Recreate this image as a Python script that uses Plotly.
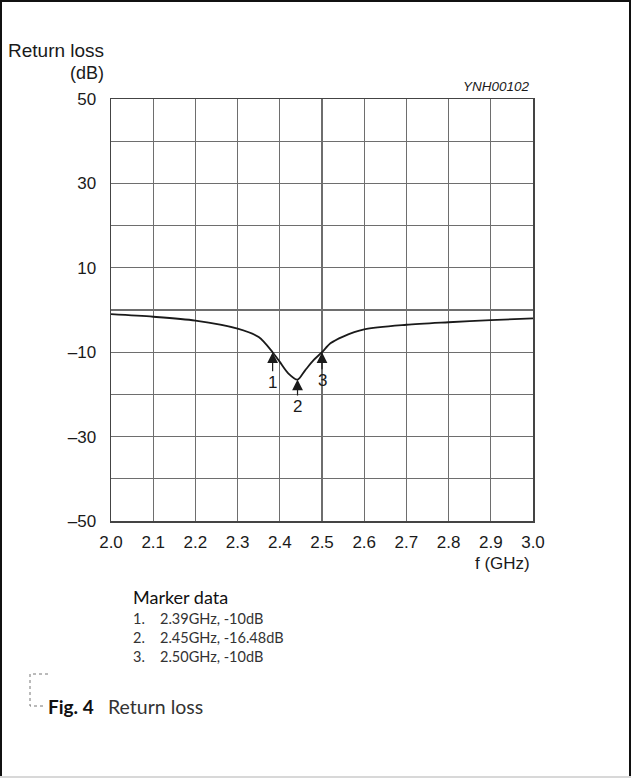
import plotly.graph_objects as go

# ---- data ----
freq_ghz = [2.0, 2.1, 2.2, 2.3, 2.35, 2.383, 2.4, 2.42, 2.442, 2.46, 2.48, 2.5, 2.52, 2.55, 2.6, 2.7, 2.8, 2.9, 3.0]
return_loss_db = [-1.0, -1.6, -2.5, -4.4, -6.4, -10.0, -12.3, -15.0, -16.5, -14.3, -11.9, -10.0, -7.9, -6.3, -4.6, -3.5, -2.9, -2.4, -2.0]

marker_labels = ["1", "2", "3"]
marker_f = [2.383, 2.442, 2.50]
marker_db = [-10.0, -16.48, -10.0]
marker_text_offset = [30, 27, 28]

marker_lines = ["2.39GHz, -10dB", "2.45GHz, -16.48dB", "2.50GHz, -10dB"]

x_tick_vals = [2.0, 2.1, 2.2, 2.3, 2.4, 2.5, 2.6, 2.7, 2.8, 2.9, 3.0]
x_tick_text = ["2.0", "2.1", "2.2", "2.3", "2.4", "2.5", "2.6", "2.7", "2.8", "2.9", "3.0"]
y_tick_vals = [-50, -40, -30, -20, -10, 0, 10, 20, 30, 40, 50]
y_tick_text = ["\u201350", "", "\u201330", "", "\u201310", "", "10", "", "30", "", "50"]

# ---- layout geometry (pixels) ----
W, H = 631, 779
L, R, T, B = 111, 98, 99, 258
PW, PH = W - L - R, H - T - B


def xp(px):
    return (px - L) / PW


def yp(py):
    return (H - B - py) / PH


AX_FONT = "Liberation Sans, Arial, sans-serif"
TXT_FONT = "Lato, Open Sans, sans-serif"

fig = go.Figure()
fig.add_trace(go.Scatter(
    x=freq_ghz, y=return_loss_db, mode="lines",
    line=dict(color="#1a1a1a", width=1.8, shape="spline", smoothing=0.8),
    hoverinfo="skip", showlegend=False,
))

annotations = []
for lab, fx, db, off in zip(marker_labels, marker_f, marker_db, marker_text_offset):
    annotations.append(dict(
        x=fx, y=db, xref="x", yref="y", text=lab, showarrow=True,
        ax=0, ay=off, axref="pixel", ayref="pixel",
        arrowhead=2, arrowsize=1.8, arrowwidth=1.2, arrowcolor="#1a1a1a",
        standoff=0, startstandoff=0,
        font=dict(family=AX_FONT, size=17, color="#1a1a1a"),
    ))


def txt(text, px, py, size, anchor="left", family=TXT_FONT, color="#1a1a1a", italic=False):
    if italic:
        text = "<i>" + text + "</i>"
    annotations.append(dict(
        x=xp(px), y=yp(py), xref="paper", yref="paper", text=text,
        showarrow=False, xanchor=anchor, yanchor="middle",
        font=dict(family=family, size=size, color=color),
    ))


txt("Return loss", 106, 50, 19, anchor="right", family=AX_FONT)
txt("(dB)", 106, 73, 18, anchor="right", family=AX_FONT)
txt("YNH00102", 532, 87, 13.5, anchor="right", family=AX_FONT, italic=True)
txt("f (GHz)", 532, 563, 17, anchor="right", family=AX_FONT)

txt("Marker data", 131, 597, 18, color="#111")
for i, line in enumerate(marker_lines):
    py = 618 + i * 19
    txt(f"{i + 1}.", 131, py, 14.5, color="#333")
    txt(line, 158, py, 14.5, color="#333")

txt("<b>Fig. 4</b>", 46, 706, 19, color="#111")
txt("Return loss", 106, 706, 19.5, color="#333")

shapes = [
    # page frame
    dict(type="line", xref="paper", yref="paper", x0=xp(1), x1=xp(1), y0=yp(0), y1=yp(777),
         line=dict(color="#111", width=2)),
    dict(type="line", xref="paper", yref="paper", x0=xp(0), x1=xp(631), y0=yp(1), y1=yp(1),
         line=dict(color="#111", width=2)),
    dict(type="line", xref="paper", yref="paper", x0=xp(630), x1=xp(630), y0=yp(0), y1=yp(777),
         line=dict(color="#111", width=2)),
    dict(type="line", xref="paper", yref="paper", x0=xp(0), x1=xp(631), y0=yp(777), y1=yp(777),
         line=dict(color="#d8d8d8", width=2)),
    # dotted bracket
    dict(type="path", xref="paper", yref="paper",
         path=f"M {xp(48)} {yp(674)} L {xp(30)} {yp(674)} L {xp(30)} {yp(706)} L {xp(45)} {yp(706)}",
         line=dict(color="#777", width=1, dash="dot")),
]

fig.update_layout(
    width=W, height=H,
    margin=dict(l=L, r=R, t=T, b=B, pad=0),
    paper_bgcolor="white", plot_bgcolor="white",
    showlegend=False,
    annotations=annotations,
    shapes=shapes,
    xaxis=dict(
        range=[2.0, 3.0], tickvals=x_tick_vals, ticktext=x_tick_text,
        showgrid=True, gridcolor="#6e6e6e", gridwidth=1.2,
        showline=True, linecolor="#444", linewidth=1.5, mirror=True,
        ticks="", ticklabelstandoff=5, zeroline=False,
        tickfont=dict(family=AX_FONT, size=17, color="#1a1a1a"),
    ),
    yaxis=dict(
        range=[-50, 50], tickvals=y_tick_vals, ticktext=y_tick_text,
        showgrid=True, gridcolor="#6e6e6e", gridwidth=1.2,
        showline=True, linecolor="#444", linewidth=1.5, mirror=True,
        ticks="", ticklabelstandoff=10, zeroline=False,
        tickfont=dict(family=AX_FONT, size=17, color="#1a1a1a"),
    ),
)

fig.write_html(
    "out.html",
    config={"displayModeBar": False, "staticPlot": True},
    post_script="document.body.style.margin='0';document.body.style.overflow='hidden';",
)
